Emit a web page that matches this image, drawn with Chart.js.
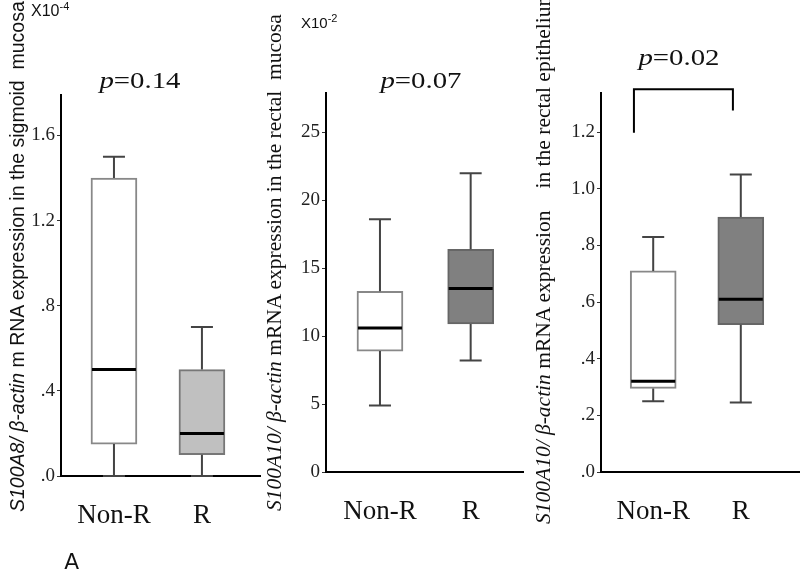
<!DOCTYPE html>
<html>
<head>
<meta charset="utf-8">
<script src="https://cdn.jsdelivr.net/npm/chart.js@4/dist/chart.umd.min.js"></script>
<style>
  html, body { margin: 0; padding: 0; background: #fff; }
  #wrap { position: relative; width: 800px; height: 569px; overflow: hidden; }
  canvas { position: absolute; top: 0; }
  .lbl { position: absolute; white-space: nowrap; color: #111; }
  .serif { font-family: "Liberation Serif", "Times New Roman", serif; }
  .sans { font-family: "Liberation Sans", Arial, sans-serif; }
  .ytitle { position: absolute; white-space: nowrap; transform-origin: 0 0; transform: rotate(-90deg); line-height: 22px; color: #111; }
  .pval { font-size: 24px; transform: translate(-50%, -50%) scaleX(1.2); }
  sup { font-size: 11px; vertical-align: 6px; }
</style>
</head>
<body>
<div id="wrap">
  <canvas id="sigmoid"></canvas>
  <canvas id="mucosa"></canvas>
  <canvas id="epith"></canvas>

  <div class="lbl sans" style="left:31px;top:0px;font-size:16px;">X10<sup>-4</sup></div>
  <div class="lbl sans" style="left:301px;top:12px;font-size:15px;">X10<sup>-2</sup></div>

  <div class="lbl serif pval" style="left:140px;top:80px;"><i>p</i>=0.14</div>
  <div class="lbl serif pval" style="left:421px;top:80px;"><i>p</i>=0.07</div>
  <div class="lbl serif pval" style="left:679px;top:57px;"><i>p</i>=0.02</div>

  <div class="ytitle sans" style="left:6px;top:512px;font-size:19.5px;"><i>S100A8/ β-actin</i> m RNA expression in the sigmoid&nbsp; mucosa</div>
  <div class="ytitle serif" style="left:263px;top:511px;font-size:21.5px;"><i>S100A10/ β-actin</i> mRNA expression in the rectal&nbsp; mucosa</div>
  <div class="ytitle serif" style="left:532px;top:524px;font-size:21.5px;"><i>S100A10/ β-actin</i> mRNA expression<span style="display:inline-block;width:22px"></span>in the rectal epithelium</div>

  <div class="lbl sans" style="left:64px;top:549px;font-size:23px;">A</div>
</div>

<script>
const groups = ['Non-R', 'R'];

// S100A8 / sigmoid mucosa (x10^-4)
const sigMin = [0.00, 0.00];
const sigQ1  = [0.15, 0.10];
const sigMed = [0.50, 0.20];
const sigQ3  = [1.40, 0.50];
const sigMax = [1.50, 0.70];
const sigTicks = [0, 0.4, 0.8, 1.2, 1.6];

// S100A10 / rectal mucosa (x10^-2)
const mucMin = [4.9, 8.2];
const mucQ1  = [8.9, 10.9];
const mucMed = [10.6, 13.5];
const mucQ3  = [13.3, 16.4];
const mucMax = [18.6, 22.0];
const mucTicks = [0, 5, 10, 15, 20, 25];

// S100A10 / rectal epithelium
const epiMin = [0.25, 0.245];
const epiQ1  = [0.295, 0.52];
const epiMed = [0.32, 0.61];
const epiQ3  = [0.71, 0.90];
const epiMax = [0.83, 1.05];
const epiTicks = [0, 0.2, 0.4, 0.6, 0.8, 1.0, 1.2];

// significance bracket (x positions, y: left foot, top, right foot)
const bracketX = [0.78, 1.91];
const bracketY = [1.198, 1.351, 1.276];

const SERIF = '"Liberation Serif", "Times New Roman", serif';

const fmtDecimal = v => {
  const s = Number(v).toFixed(1);
  return s.startsWith('0') ? s.slice(1) : s;
};

// whiskers, caps and median drawn through the chart scales
const boxPlugin = {
  id: 'boxWhiskers',
  afterDatasetsDraw(chart) {
    const st = chart.config.options.plugins.boxWhiskers;
    const { ctx, scales: { x, y } } = chart;
    ctx.save();
    st.med.forEach((m, i) => {
      const cx = x.getPixelForValue(i + 1);
      const half = 23, cap = 11;
      ctx.strokeStyle = '#444';
      ctx.lineWidth = 2;
      ctx.beginPath();
      ctx.moveTo(cx, y.getPixelForValue(st.q3[i]));
      ctx.lineTo(cx, y.getPixelForValue(st.max[i]));
      ctx.moveTo(cx - cap, y.getPixelForValue(st.max[i]));
      ctx.lineTo(cx + cap, y.getPixelForValue(st.max[i]));
      ctx.moveTo(cx, y.getPixelForValue(st.q1[i]));
      ctx.lineTo(cx, y.getPixelForValue(st.min[i]));
      ctx.moveTo(cx - cap, y.getPixelForValue(st.min[i]));
      ctx.lineTo(cx + cap, y.getPixelForValue(st.min[i]));
      ctx.stroke();
      ctx.strokeStyle = '#000';
      ctx.lineWidth = 3;
      ctx.beginPath();
      ctx.moveTo(cx - half + 1, y.getPixelForValue(m));
      ctx.lineTo(cx + half - 1, y.getPixelForValue(m));
      ctx.stroke();
    });
    if (st.bracket) {
      ctx.strokeStyle = '#000';
      ctx.lineWidth = 2;
      ctx.beginPath();
      ctx.moveTo(x.getPixelForValue(bracketX[0]), y.getPixelForValue(bracketY[0]));
      ctx.lineTo(x.getPixelForValue(bracketX[0]), y.getPixelForValue(bracketY[1]));
      ctx.lineTo(x.getPixelForValue(bracketX[1]), y.getPixelForValue(bracketY[1]));
      ctx.lineTo(x.getPixelForValue(bracketX[1]), y.getPixelForValue(bracketY[2]));
      ctx.stroke();
    }
    ctx.restore();
  }
};

function makeBox(id, left, width, pad, stats, yMax, ticks, fmt, fills, borders, bracket) {
  const cv = document.getElementById(id);
  cv.style.left = left + 'px';
  cv.width = width; cv.height = 569;
  new Chart(cv, {
    type: 'bar',
    data: {
      datasets: [{
        data: groups.map((g, i) => ({ x: i + 1, y: [stats.q1[i], stats.q3[i]] })),
        backgroundColor: fills,
        borderColor: borders,
        borderWidth: 2,
        borderSkipped: false,
        barThickness: 46
      }]
    },
    options: {
      responsive: false,
      animation: false,
      layout: { padding: { left: pad.left, right: pad.right, top: pad.top, bottom: pad.bottom } },
      plugins: {
        legend: { display: false },
        tooltip: { enabled: false },
        boxWhiskers: Object.assign({ bracket }, stats)
      },
      scales: {
        x: {
          type: 'linear', min: pad.xMin, max: pad.xMax, offset: false,
          afterBuildTicks: s => { s.ticks = groups.map((g, i) => ({ value: i + 1 })); },
          afterFit: s => { s.height = 60; },
          ticks: { callback: v => groups[v - 1], color: '#111', padding: 24, font: { family: SERIF, size: 27 } },
          grid: { display: false, drawTicks: false, offset: false },
          border: { display: true, color: '#000', width: 2 }
        },
        y: {
          min: 0, max: yMax,
          afterBuildTicks: s => { s.ticks = ticks.map(v => ({ value: v })); },
          afterFit: s => { s.width = 34; },
          ticks: { callback: fmt, color: '#222', padding: 2, font: { family: SERIF, size: 19 } },
          grid: { drawOnChartArea: false, drawTicks: true, tickLength: 4, color: '#333', lineWidth: 1 },
          border: { display: true, color: '#000', width: 2 }
        }
      }
    },
    plugins: [boxPlugin]
  });
}

makeBox('sigmoid', 25, 245,
  { left: 2, right: 10, top: 95, bottom: 33, xMin: 0.398, xMax: 2.66 },
  { min: sigMin, q1: sigQ1, med: sigMed, q3: sigQ3, max: sigMax },
  1.79, sigTicks, fmtDecimal, ['#fff', '#c0c0c0'], ['#888', '#777'], false);

makeBox('mucosa', 270, 260,
  { left: 22, right: 7, top: 93, bottom: 37, xMin: 0.405, xMax: 2.577 },
  { min: mucMin, q1: mucQ1, med: mucMed, q3: mucQ3, max: mucMax },
  27.9, mucTicks, v => String(v), ['#fff', '#808080'], ['#888', '#666'], false);

makeBox('epith', 530, 270,
  { left: 37, right: 0, top: 93, bottom: 37, xMin: 0.404, xMax: 2.676 },
  { min: epiMin, q1: epiQ1, med: epiMed, q3: epiQ3, max: epiMax },
  1.338, epiTicks, fmtDecimal, ['#fff', '#808080'], ['#888', '#666'], true);
</script>
</body>
</html>
